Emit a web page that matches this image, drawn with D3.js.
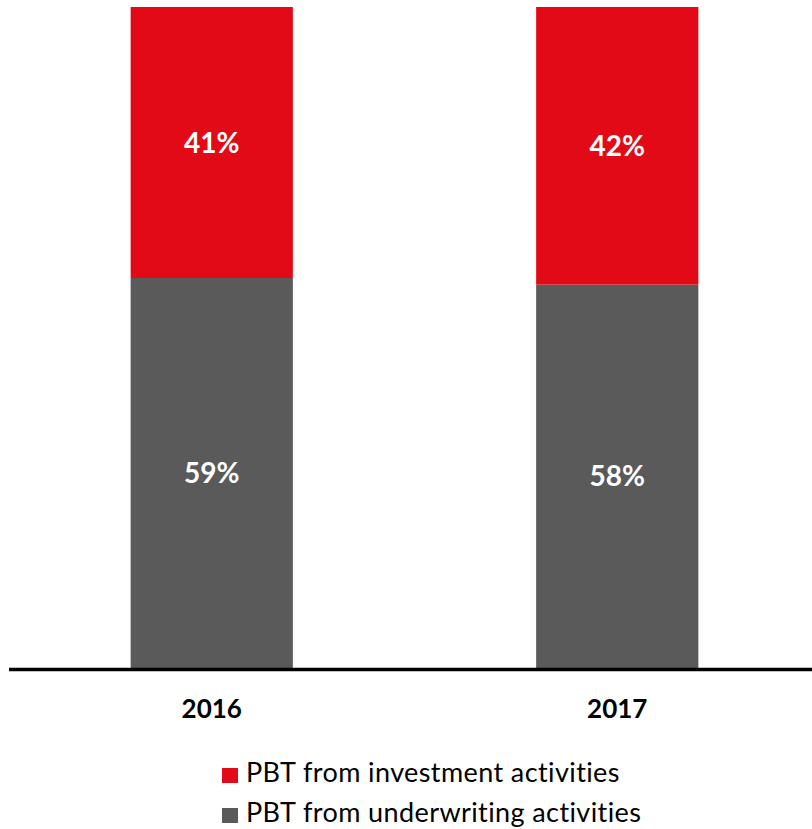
<!DOCTYPE html>
<html>
<head>
<meta charset="utf-8">
<script src="https://cdn.jsdelivr.net/npm/d3@7"></script>
<style>
  body { margin: 0; background: #fff; }
  svg { display: block; font-family: Lato, "Open Sans", sans-serif; font-variant-ligatures: none; }
</style>
</head>
<body>
<div id="chart"></div>
<script>
const years = ['2016', '2017'];
const investment = [41, 42];
const underwriting = [59, 58];
const seriesNames = ['PBT from investment activities', 'PBT from underwriting activities'];

const width = 812;
const height = 829;
const red = '#e20a17';
const grey = '#5a5a5a';

const svg = d3
  .select('#chart')
  .append('svg')
  .attr('width', width)
  .attr('height', height);

const x = d3
  .scaleBand()
  .domain(years)
  .range([9, 820])
  .paddingInner(0.6)
  .paddingOuter(0.3);

const y = d3.scaleLinear().domain([0, 100]).range([668, 7]);

const rows = years.map((year, i) => ({
  year,
  underwriting: underwriting[i],
  investment: investment[i]
}));

const stack = d3.stack().keys(['underwriting', 'investment'])(rows);
const colors = { underwriting: grey, investment: red };

const layer = svg
  .selectAll('g.layer')
  .data(stack)
  .join('g')
  .attr('class', 'layer')
  .attr('fill', d => colors[d.key]);

layer
  .selectAll('rect')
  .data(d => d)
  .join('rect')
  .attr('x', d => x(d.data.year))
  .attr('y', d => y(d[1]))
  .attr('width', x.bandwidth())
  .attr('height', d => y(d[0]) - y(d[1]));

layer
  .selectAll('text')
  .data(d => d.map(v => ({ v, key: d.key })))
  .join('text')
  .attr('x', d => x(d.v.data.year) + x.bandwidth() / 2)
  .attr('y', d => (y(d.v[0]) + y(d.v[1])) / 2)
  .attr('dy', '0.36em')
  .attr('text-anchor', 'middle')
  .attr('fill', '#fff')
  .style('font-weight', 'bold')
  .style('font-size', '28px')
  .text(d => `${d.v.data[d.key]}%`);

// baseline axis
const axis = svg.append('g').attr('transform', `translate(0, ${y(0) + 1.5})`);
axis
  .call(d3.axisBottom(x).tickSize(0).tickPadding(30))
  .call(g => g.select('.domain').remove())
  .call(g =>
    g
      .selectAll('.tick text')
      .attr('fill', '#000')
      .style('font-family', 'Lato, "Open Sans", sans-serif')
      .style('font-weight', 'bold')
      .style('font-size', '26px')
  );

svg
  .append('line')
  .attr('x1', 9)
  .attr('x2', width)
  .attr('y1', y(0) + 1.5)
  .attr('y2', y(0) + 1.5)
  .attr('stroke', '#000')
  .attr('stroke-width', 3.5);

// legend
const legend = svg
  .selectAll('g.legend')
  .data(seriesNames)
  .join('g')
  .attr('class', 'legend')
  .attr('transform', (d, i) => `translate(222, ${768 + i * 40})`);

legend
  .append('rect')
  .attr('width', 16)
  .attr('height', 15)
  .attr('fill', (d, i) => (i === 0 ? red : grey));

legend
  .append('text')
  .attr('x', 24)
  .attr('y', 14)
  .attr('fill', '#000')
  .style('font-size', '27px')
  .style('letter-spacing', '0.4px')
  .text(d => d);
</script>
</body>
</html>
